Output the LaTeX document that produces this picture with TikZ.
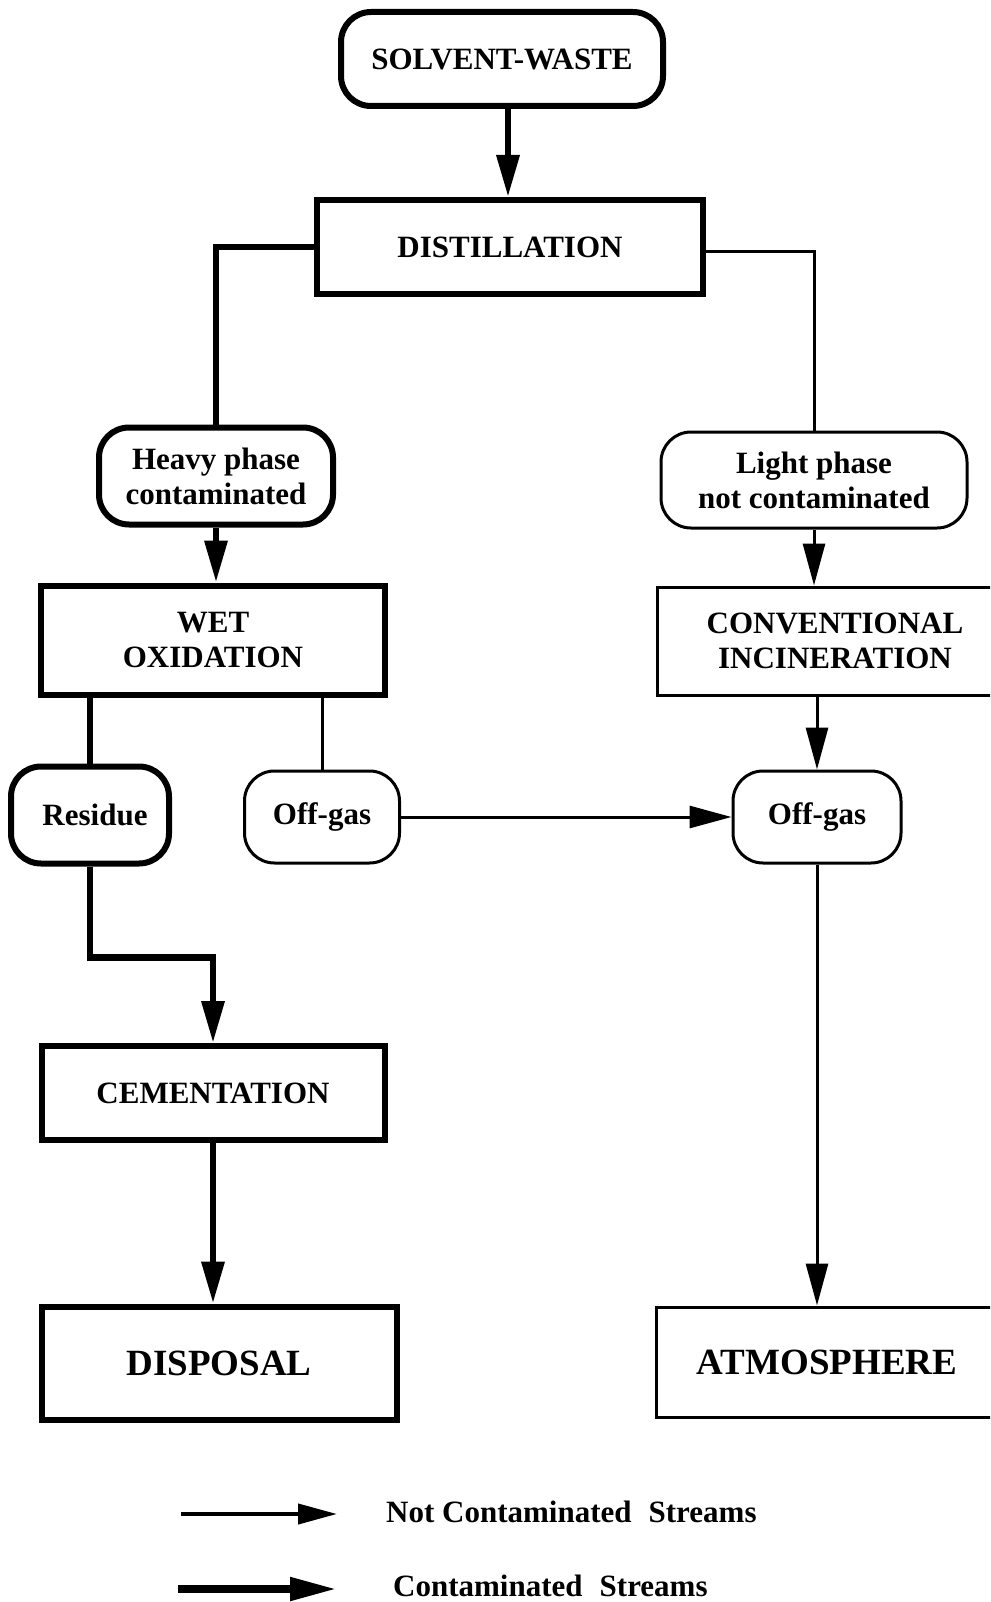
\documentclass[tikz,border=0pt]{standalone}
\usepackage{fontspec}
\setmainfont{Liberation Serif}
\usetikzlibrary{arrows.meta}
\begin{document}
\begin{tikzpicture}[x=1pt,y=-1pt,
  lbl/.style={font=\bfseries\fontsize{31}{35}\selectfont, align=center, inner sep=0pt},
  biglbl/.style={font=\bfseries\fontsize{37}{40}\selectfont},
  thickbox/.style={lbl, draw, line width=6pt},
  thinbox/.style={lbl, draw, line width=3pt},
  thickround/.style={thickbox, rounded corners=30pt},
  thinround/.style={thinbox, rounded corners=30pt},
  tip/.style={-{Triangle[length=42pt,width=22pt]}},
  heavyline/.style={line width=6.5pt},
  lightline/.style={line width=3pt},
  heavyflow/.style={heavyline, tip},
  lightflow/.style={lightline, tip},
  legendtext/.style={lbl, anchor=west}
]
\useasboundingbox (0,0) rectangle (990,1602);
\fill[white] (0,0) rectangle (990,1602);
\clip (0,0) rectangle (990,1602);

% process boxes
\node[thickround, minimum width=322pt, minimum height=94pt] (sw) at (502,59) {SOLVENT-WASTE};
\node[thickbox, minimum width=386pt, minimum height=94pt] (dist) at (510,247) {DISTILLATION};
\node[thickround, minimum width=234pt, minimum height=97pt] (heavy) at (216,476) {Heavy phase\\contaminated};
\node[thinround, minimum width=306pt, minimum height=96pt] (light) at (814,480) {Light phase\\not contaminated};
\node[thickbox, minimum width=344pt, minimum height=109pt] (wet) at (213,640) {WET\\OXIDATION};
\node[thinbox, minimum width=356pt, minimum height=108pt] (conv) at (835,641) {CONVENTIONAL\\INCINERATION};
\node[thickround, minimum width=158pt, minimum height=97pt] (res) at (90,815) {\hspace*{10pt}Residue};
\node[thinround, minimum width=155pt, minimum height=92pt] (offl) at (322,817) {Off-gas};
\node[thinround, minimum width=168pt, minimum height=92pt] (offr) at (817,817) {Off-gas};
\node[thickbox, minimum width=343pt, minimum height=94pt] (cem) at (213,1093) {CEMENTATION};
\node[thickbox, biglbl, minimum width=355pt, minimum height=113pt] (disp) at (219,1363) {DISPOSAL};
\node[thinbox, biglbl, minimum width=342pt, minimum height=110pt] (atm) at (827,1362) {ATMOSPHERE};

% streams
\draw[heavyflow] (sw.south -| 508,0) -- (dist.north -| 508,0);
\draw[heavyline] (dist.west) -| (heavy.north);
\draw[heavyflow] (heavy.south) -- (heavy.south |- wet.north);
\draw[lightline] ([yshift=-5pt]dist.east) -| (light.north);
\draw[lightflow] (light.south) -- (light.south |- conv.north);
\draw[lightflow] (conv.south -| offr.north) -- (offr.north);
\draw[heavyline] (wet.south -| res.north) -- (res.north);
\draw[lightline] (wet.south -| offl.north) -- (offl.north);
\draw[lightflow] (offl.east) -- (offr.west);
\draw[lightflow] (offr.south) -- (offr.south |- atm.north);
\draw[heavyflow] (res.south) -- ++(0,91) -| (cem.north);
\draw[heavyflow] (cem.south) -- (cem.south |- disp.north);

% legend
\coordinate (la) at (181,1514);
\coordinate (lb) at (337,1514);
\coordinate (lc) at (178,1589);
\coordinate (ld) at (337,1589);
\draw[line width=4pt, -{Triangle[length=39pt,width=20pt]}] (la) -- (lb);
\draw[line width=8pt, -{Triangle[length=47pt,width=22pt]}] (lc) -- (ld);
\node[legendtext] (lt1) at (386,1512) {Not Contaminated\hspace{0.3em} Streams};
\node[legendtext] (lt2) at (393,1586) {Contaminated\hspace{0.3em} Streams};
\end{tikzpicture}
\end{document}
